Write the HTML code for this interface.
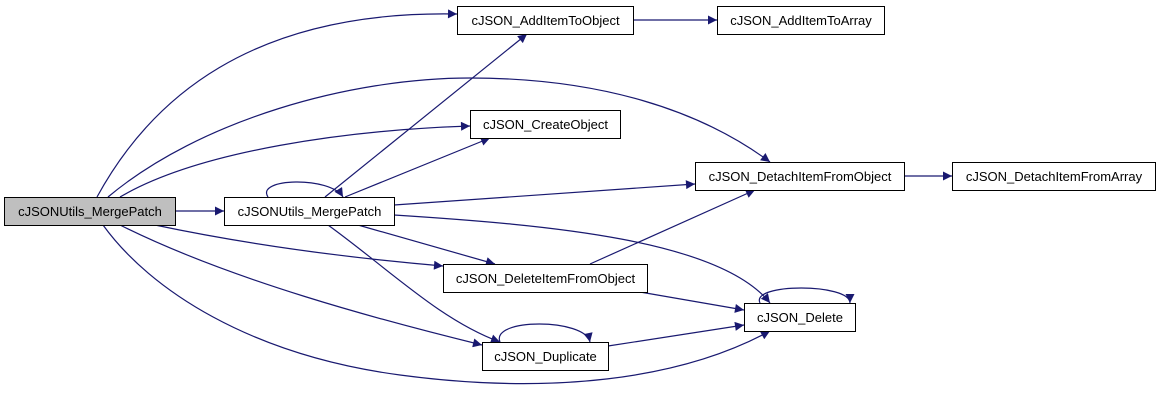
<!DOCTYPE html>
<html><head><meta charset="utf-8"><style>
body{margin:0;background:#fff;width:1160px;height:400px;overflow:hidden}
svg text{font-family:"Liberation Sans",sans-serif;font-size:13px;fill:#000}
</style></head><body>
<svg width="1160" height="400" viewBox="0 0 1160 400" xmlns="http://www.w3.org/2000/svg">
<defs><marker id="a" viewBox="0 0 10 10" refX="10" refY="5" markerWidth="12" markerHeight="9" markerUnits="userSpaceOnUse" orient="auto"><path d="M0,0L10,5L0,10z" fill="#191970"/></marker></defs>
<g fill="none" stroke="#191970" stroke-width="1.2" marker-end="url(#a)">
<path d="M175,211L224,211"/>
<path d="M97,197C150,100 250,10 457,14"/>
<path d="M108,197C200,120 350,78 470,78C600,78 700,110 770,162"/>
<path d="M120,197C200,150 350,130 470,126"/>
<path d="M155,225C250,245 350,258 443,266"/>
<path d="M120,225C230,280 380,320 482,345"/>
<path d="M103,225C150,290 250,355 400,375C550,395 680,380 770,331"/>
<path d="M268,197C255,178 330,176 343,197"/>
<path d="M325,197L527,34"/>
<path d="M345,197L490,138"/>
<path d="M394,205L695,184"/>
<path d="M358,225L495,264"/>
<path d="M394,215C550,225 720,240 770,303"/>
<path d="M328,225C390,270 440,320 500,342"/>
<path d="M633,20L717,20"/>
<path d="M904,176L952,176"/>
<path d="M590,264L755,190"/>
<path d="M640,292L744,310"/>
<path d="M608,346L744,325"/>
<path d="M500,342C490,318 585,318 590,342"/>
<path d="M760,303C750,283 850,283 850,303"/>
</g>
<g stroke="#000" stroke-width="1" fill="#fff">
<rect x="4.5" y="197.5" width="171" height="28" fill="#bfbfbf"/>
<rect x="224.5" y="197.5" width="170" height="28"/>
<rect x="457.5" y="6.5" width="176" height="28"/>
<rect x="717.5" y="6.5" width="167" height="28"/>
<rect x="470.5" y="110.5" width="150" height="28"/>
<rect x="695.5" y="162.5" width="209" height="28"/>
<rect x="952.5" y="162.5" width="203" height="28"/>
<rect x="443.5" y="264.5" width="204" height="28"/>
<rect x="744.5" y="303.5" width="111" height="28"/>
<rect x="482.5" y="342.5" width="126" height="28"/>
</g>
<g text-anchor="middle">
<text x="90" y="216">cJSONUtils_MergePatch</text>
<text x="309.5" y="216">cJSONUtils_MergePatch</text>
<text x="545.5" y="25">cJSON_AddItemToObject</text>
<text x="801" y="25">cJSON_AddItemToArray</text>
<text x="545.5" y="129">cJSON_CreateObject</text>
<text x="800" y="181">cJSON_DetachItemFromObject</text>
<text x="1054" y="181">cJSON_DetachItemFromArray</text>
<text x="545.5" y="283">cJSON_DeleteItemFromObject</text>
<text x="800" y="322">cJSON_Delete</text>
<text x="545.5" y="361">cJSON_Duplicate</text>
</g>
</svg>
</body></html>
